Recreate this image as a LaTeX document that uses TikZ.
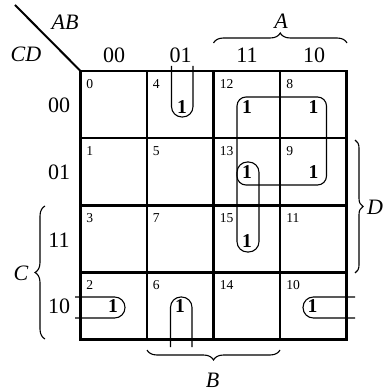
\documentclass[tikz,border=0pt]{standalone}
\usepackage{fontspec}
\setmainfont{Liberation Serif}
\usetikzlibrary{decorations.pathreplacing}

\begin{document}
\begin{tikzpicture}[x=0.5pt, y=-0.5pt,
    every node/.style={inner sep=0pt},
    cabecera/.style={font=\fontsize{11}{11}\selectfont},
    indice/.style={font=\fontsize{6.8}{6.8}\selectfont, anchor=north west},
    uno/.style={font=\fontsize{9.8}{9.8}\selectfont\bfseries},
    lazo/.style={line width=0.55pt, rounded corners=5.2pt},
    llave/.style={line width=0.55pt, decorate, decoration={brace, amplitude=5pt}}]
    \useasboundingbox (0,0) rectangle (384,389);
    % Cuadricula del mapa de Karnaugh (4x4)
    \draw[line width=1.1pt] (80.5,71) rectangle (346.5,339.5);
    \draw[line width=1.1pt] (147,71) -- (147,339.5);
    \draw[line width=1.1pt] (213.5,71) -- (213.5,339.5);
    \draw[line width=1.1pt] (280,71) -- (280,339.5);
    \draw[line width=1.1pt] (80.5,138) -- (346.5,138);
    \draw[line width=1.1pt] (80.5,205.5) -- (346.5,205.5);
    \draw[line width=1.1pt] (80.5,272.5) -- (346.5,272.5);
    % Diagonal de la esquina con AB y CD
    \draw[line width=1pt] (15,5) -- (80.5,71);
    \node[cabecera] (ab) at (65,22) {\textit{AB}};
    \node[cabecera] (cd) at (26,54) {\textit{CD}};
    % Cabeceras de columnas (AB) y de filas (CD)
    \node[cabecera] (c00) at (114,55) {00};
    \node[cabecera] (c01) at (180.5,55) {01};
    \node[cabecera] (c11) at (247,55) {11};
    \node[cabecera] (c10) at (314,55) {10};
    \node[cabecera] (f00) at (59,105) {00};
    \node[cabecera] (f01) at (59,172) {01};
    \node[cabecera] (f11) at (59,240) {11};
    \node[cabecera] (f10) at (59,306) {10};
    % Numeros de las celdas (minterminos)
    \node[indice] (n0) at (86,79) {0};
    \node[indice] (n1) at (86,146) {1};
    \node[indice] (n3) at (86,213.5) {3};
    \node[indice] (n2) at (86,280.5) {2};
    \node[indice] (n4) at (152.5,79) {4};
    \node[indice] (n5) at (152.5,146) {5};
    \node[indice] (n7) at (152.5,213.5) {7};
    \node[indice] (n6) at (152.5,280.5) {6};
    \node[indice] (n12) at (219.5,79) {12};
    \node[indice] (n13) at (219.5,146) {13};
    \node[indice] (n15) at (219.5,213.5) {15};
    \node[indice] (n14) at (219.5,280.5) {14};
    \node[indice] (n8) at (286,79) {8};
    \node[indice] (n9) at (286,146) {9};
    \node[indice] (n11) at (286,213.5) {11};
    \node[indice] (n10) at (286,280.5) {10};
    % Unos del mapa
    \node[uno] (u4) at (182,107) {1};
    \node[uno] (u12) at (247,107) {1};
    \node[uno] (u8) at (313.5,107) {1};
    \node[uno] (u13) at (247,172.5) {1};
    \node[uno] (u9) at (313.5,172.5) {1};
    \node[uno] (u15) at (247,241.5) {1};
    \node[uno] (u2) at (113,306.5) {1};
    \node[uno] (u6) at (180,306.5) {1};
    \node[uno] (u10) at (312.5,306.5) {1};
    % Agrupaciones: 4-6 (envuelve arriba y abajo)
    \draw[lazo] (171.5,66) -- (171.5,117) -- (193,117) -- (193,66);
    \draw[lazo] (170.5,347) -- (170.5,297) -- (192,297) -- (192,347);
    % Agrupacion 12-8-13-9
    \draw[lazo, rounded corners=4.5pt] (237,97) rectangle (326.5,185);
    % Agrupacion 13-15
    \draw[lazo] (237,162) rectangle (259,252);
    % Agrupacion 2-10 (envuelve izquierda y derecha)
    \draw[lazo] (75,297) -- (125,297) -- (125,318) -- (75,318);
    \draw[lazo] (355,297) -- (303,297) -- (303,318) -- (355,318);
    % Llaves de las variables
    \draw[llave] (213.5,43) -- (347,43);
    \node[cabecera] (A) at (281,21) {\textit{A}};
    \draw[llave, decoration={amplitude=4pt}] (355,140) -- (355,273);
    \node[cabecera, anchor=east] (D) at (383.5,207) {\textit{D}};
    \draw[llave] (45,339) -- (45,206);
    \node[cabecera] (C) at (21,273.5) {\textit{C}};
    \draw[llave] (280,350) -- (147,350);
    \node[cabecera] (B) at (212.5,380) {\textit{B}};
\end{tikzpicture}
\end{document}
